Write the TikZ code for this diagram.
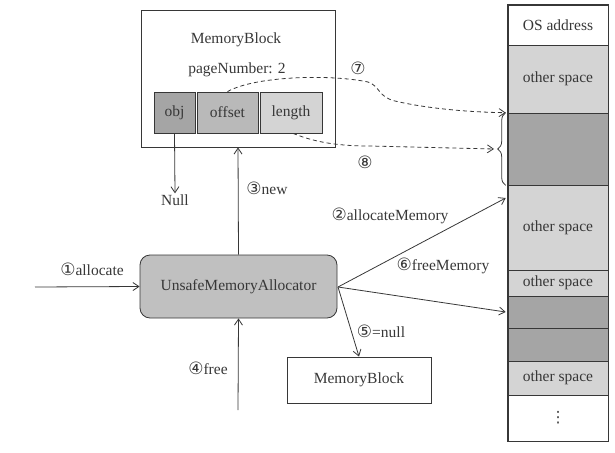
\documentclass[tikz,border=0pt]{standalone}
\usepackage{fontspec}
\setmainfont{Liberation Serif}
\newfontfamily\circfont{DejaVu Sans}
\usetikzlibrary{arrows.meta,decorations.pathreplacing}
\definecolor{ink}{RGB}{55,55,55}
\definecolor{gdark}{RGB}{165,165,165}
\definecolor{gmid}{RGB}{185,185,185}
\definecolor{glight}{RGB}{212,212,212}
\definecolor{gunsafe}{RGB}{192,192,192}
\newcommand{\cn}[1]{{\circfont\fontsize{17}{18}\selectfont #1}}
\tikzset{
  every node/.style={font=\fontsize{15.5}{18}\selectfont, text=ink},
  box/.style={draw=ink, line width=0.8pt, inner sep=0pt},
  cell/.style={draw=ink, line width=0.6pt, inner sep=0pt, minimum width=100pt},
  lbl/.style={inner sep=1pt},
  arr/.style={draw=ink, line width=0.8pt, -{Straight Barb[length=6pt,width=8pt]}},
  darr/.style={arr, dashed, dash pattern=on 4pt off 3pt},
}
\begin{document}
\begin{tikzpicture}[x=1pt,y=-1pt]
\useasboundingbox (0,0) rectangle (615,452);
% Memory block (top)
\node[box, minimum width=194pt, minimum height=137pt] (mb) at (238,78.5) {};
\node (mbt) at (236,40) {MemoryBlock};
\node (pn) at (237,70) {pageNumber: 2};
\node[box, fill=gdark, minimum width=41pt, minimum height=41pt] (obj) at (174.5,112.5) {obj};
\node[box, fill=gmid, minimum width=61pt, minimum height=41pt] (off) at (227.5,112.5) {offset};
\node[box, fill=glight, minimum width=62pt, minimum height=41pt] (len) at (291,112.5) {length};
\node[lbl] (null) at (175,200) {Null};
% allocator
\node[box, fill=gunsafe, rounded corners=10pt, minimum width=197pt, minimum height=63pt] (u) at (238.5,286.5) {UnsafeMemoryAllocator};
\node[box, minimum width=144pt, minimum height=46pt] (mb2) at (359,380) {MemoryBlock};
% OS column
\node[cell, minimum height=40pt] (os0) at (558,25) {OS address};
\node[cell, fill=glight, minimum height=68pt] (os1) at (558,79) {other space};
\node[cell, fill=gdark, minimum height=72pt] (os2) at (558,149) {};
\node[cell, fill=glight, minimum height=85pt] (os3) at (558,227.5) {other space};
\node[cell, fill=glight, minimum height=26pt] (os4) at (558,283) {other space};
\node[cell, fill=gdark, minimum height=32pt] (os5) at (558,312) {};
\node[cell, fill=gdark, minimum height=33pt] (os6) at (558,344.5) {};
\node[cell, fill=glight, minimum height=34pt] (os7) at (558,378) {other space};
\node[cell, minimum height=46pt] (os8) at (558,418) {\circfont ⋮};
\draw[ink, line width=0.9pt] (os0.north west) rectangle (os8.south east);
% brace
\coordinate (bb) at ([xshift=-2pt]os2.south west);
\coordinate (bt) at ([xshift=-2pt]os2.north west);
\coordinate (btip) at (494,149);
\draw[ink, line width=0.8pt, decorate, decoration={brace, amplitude=8pt}] (bb) -- (bt);
% connectors
\coordinate (in) at (35,287);
\coordinate (fr) at (238,410);
\draw[arr] (obj.south) -- (null.north);
\draw[arr] (u.north) -- (mb.south);
\draw[arr] (in) -- (u.west);
\draw[arr] (fr) -- (u.south);
\coordinate (ue) at (338,287);
\draw[arr] (ue) -- ([xshift=-2pt]os3.north west |- 0,198);
\draw[arr] (ue) -- ([xshift=-2pt]os5.west);
\draw[arr] (ue) -- (mb2.north);
\draw[darr] (off.north) .. controls (255,76) and (330,74) .. (368,82) .. controls (380,86) and (378,97) .. (395,101) .. controls (420,107) and (460,112) .. (bt);
\draw[darr] ([xshift=2pt]len.south) .. controls (310,140) and (330,146) .. (370,146) -- (btip);
% labels
\node[lbl] (l1) at (92,269) {\cn{①}allocate};
\node[lbl] (l3) at (267,188) {\cn{③}new};
\node[lbl] (l2) at (390,216) {\cn{②}allocateMemory};
\node[lbl] (l6) at (443,266) {\cn{⑥}freeMemory};
\node[lbl] (l5) at (381,331) {\cn{⑤}=null};
\node[lbl] (l4) at (208,368) {\cn{④}free};
\node[lbl] (l7) at (358,68) {\cn{⑦}};
\node[lbl] (l8) at (365,162) {\cn{⑧}};
\end{tikzpicture}
\end{document}
